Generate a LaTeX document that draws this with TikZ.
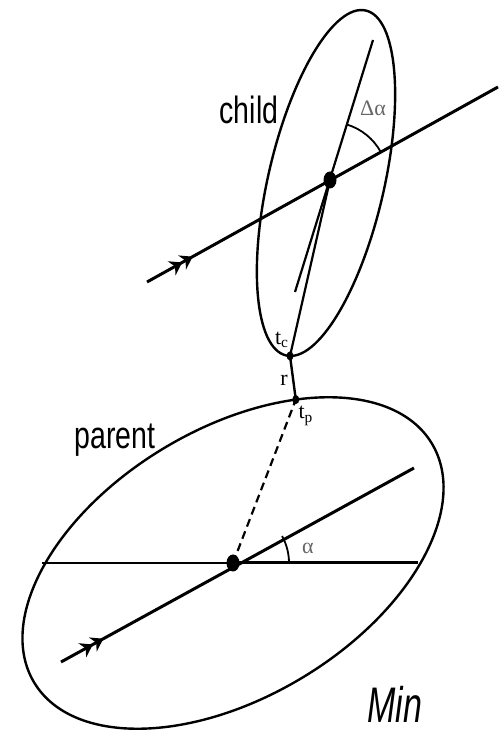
\documentclass[tikz,border=0pt]{standalone}
\usepackage{fontspec}
\setmainfont{Liberation Serif}
\setsansfont{Liberation Sans}
\usetikzlibrary{arrows.meta,decorations.markings}
\definecolor{greekgray}{gray}{0.4}
\begin{document}
\begin{tikzpicture}[x=0.5pt,y=0.5pt,
    rim/.style={line width=1.2pt},
    axis/.style={line width=1.5pt},
    flow/.style={postaction={decorate},decoration={markings,
      mark=at position #1 with {\arrow{Stealth[length=6pt,width=8pt] Stealth[length=6pt,width=8pt]}}}},
    word/.style={font=\sffamily\fontsize{19}{20}\selectfont, xscale=0.75},
    sym/.style={font=\fontsize{11}{12}\selectfont}]
  \useasboundingbox (0,0) rectangle (499,734);
  \coordinate (P) at (233,171);
  \coordinate (C) at (330,554);
  % parent ellipse
  \begin{scope}[shift={(P)}, rotate=31]
    \draw[rim] (0,0) ellipse [x radius=232, y radius=134];
    \coordinate (tp) at (53.5:232 and 134);
  \end{scope}
  % child ellipse
  \begin{scope}[shift={(326,551)}, rotate=77]
    \draw[rim] (0,0) ellipse [x radius=177, y radius=58];
    \coordinate (tc) at (183.8:177 and 58);
  \end{scope}
  \coordinate (hl) at (42,171);
  \coordinate (hr) at (418,171);
  \coordinate (pa) at (61,72);
  \coordinate (pb) at (414,266);
  \coordinate (ca) at (147,452);
  \coordinate (cb) at (498,647);
  \coordinate (ia) at (295,442);
  \coordinate (ib) at (373,694);
  \draw[line width=0.8pt] (hl) -- (P);
  \draw[axis] (P) -- (hr);
  \draw[axis, flow=0.12] (pa) -- (pb);
  \draw[axis, flow=0.13] (ca) -- (cb);
  \draw[line width=1.1pt] (ia) -- (ib);
  \draw[line width=1.1pt] (C) -- (tc);
  \draw[line width=1.1pt, dash pattern=on 4pt off 2.5pt] (P) -- (tp);
  \draw[line width=1.2pt] (tp) -- (tc);
  \draw[line width=0.9pt] (P) ++(0:56) arc[start angle=0, end angle=28.8, radius=56];
  \draw[line width=0.9pt] (C) ++(29:58) arc[start angle=29, end angle=72.8, radius=58];
  \fill (P) ellipse [x radius=6.5, y radius=8.5];
  \fill (C) ellipse [x radius=6.5, y radius=8.5];
  \fill (tp) ellipse [x radius=3.5, y radius=4.5];
  \fill (tc) ellipse [x radius=3.5, y radius=4.5];
  \node[word] (child) at (249,624) {child};
  \node[word] (parent) at (115,294) {parent};
  \node[font=\sffamily\itshape\fontsize{25}{26}\selectfont, xscale=0.68] (min) at (395,30) {Min};
  \node[sym, text=greekgray] (dalpha) at (373,626) {Δα};
  \node[sym, text=greekgray] (alpha) at (308,186) {α};
  \node[sym] (tclabel) at (282,394) {t\textsubscript{c}};
  \node[sym] (tplabel) at (306,318) {t\textsubscript{p}};
  \node[sym] (rlabel) at (284,354) {r};
\end{tikzpicture}
\end{document}
